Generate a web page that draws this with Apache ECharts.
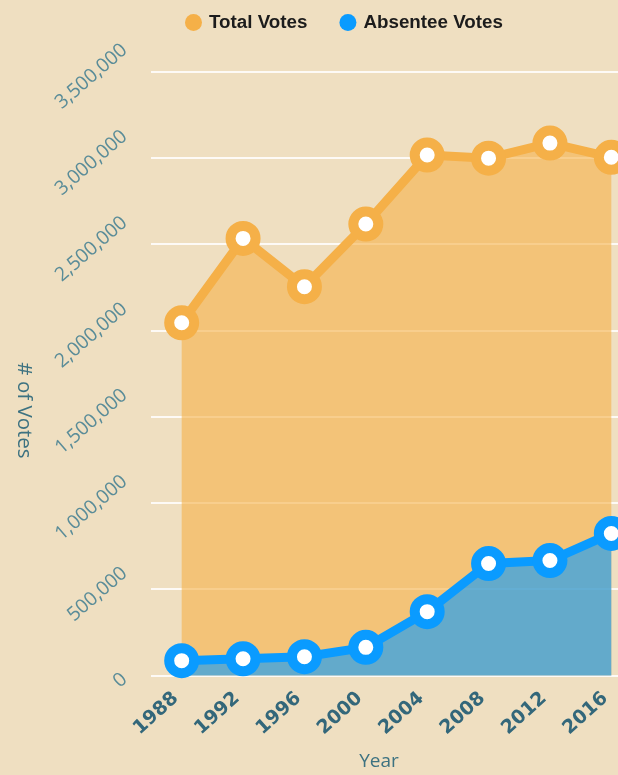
<!DOCTYPE html>
<html>
<head>
<meta charset="utf-8">
<script src="https://cdn.jsdelivr.net/npm/echarts@6/dist/echarts.min.js"></script>
<style>
html, body { margin: 0; padding: 0; overflow: hidden; background: #efdfc1; width: 618px; height: 775px; }
#chart { width: 660px; height: 775px; }
</style>
</head>
<body>
<div id="chart"></div>
<script>
// ---- data ----
const years = ['1988', '1992', '1996', '2000', '2004', '2008', '2012', '2016'];
const totalVotes = [2044000, 2533000, 2253000, 2616000, 3016000, 2998000, 3085000, 3003000];
const absenteeVotes = [86000, 97000, 109000, 163000, 370000, 649000, 666000, 823000];
const yTickLabels = ['0', '500,000', '1,000,000', '1,500,000', '2,000,000', '2,500,000', '3,000,000', '3,500,000'];
const seriesNames = ['Total Votes', 'Absentee Votes'];

// ---- styling ----
const ORANGE = '#f5b048';
const BLUE = '#0a9bff';
const GRID_LEFT = 151;
const Y_ROT = 41;
const Y_FONT = 19.5;
const Y_FAMILY = '"Open Sans"';
const Y_COLOR = '#5a8c98';

// per-label padding so that each rotated label's bounding box is right-aligned
const ctx = document.createElement('canvas').getContext('2d');
ctx.font = Y_FONT + 'px ' + Y_FAMILY;
const th = Y_ROT * Math.PI / 180;
const XR = 129, hVis = 13.5, dyC = 5;
const cOff = XR - GRID_LEFT;
const rich = {};
yTickLabels.forEach(function (t, i) {
  const L = ctx.measureText(t).width;
  const a = cOff - (L * Math.cos(th) + hVis * Math.sin(th)) / 2;
  const b = dyC;
  const xt = a * Math.cos(th) - b * Math.sin(th);
  const yt = a * Math.sin(th) + b * Math.cos(th);
  const pr = Math.max(0, -xt - L / 2);
  const pb = Math.max(0, -2 * yt);
  rich['t' + i] = { padding: [0, pr, pb, 0], fontSize: Y_FONT, fontFamily: Y_FAMILY, color: Y_COLOR };
});

const chart = echarts.init(document.getElementById('chart'), null, { renderer: 'canvas' });
chart.setOption({
  backgroundColor: '#efdfc1',
  animation: false,
  legend: {
    left: 185,
    top: 13,
    padding: 0,
    itemWidth: 17,
    itemHeight: 17,
    itemGap: 32,
    icon: 'circle',
    textStyle: { fontFamily: '"Liberation Sans", Arial, sans-serif', fontWeight: 'bold', fontSize: 18.8, color: '#1c1c1c', padding: [0, 0, 0, 2] },
    data: [
      { name: seriesNames[0], itemStyle: { color: ORANGE, borderWidth: 0 } },
      { name: seriesNames[1], itemStyle: { color: BLUE, borderWidth: 0 } }
    ]
  },
  grid: { left: GRID_LEFT, right: 18, top: 71.5, bottom: 99.5, containLabel: false, outerBoundsMode: 'none' },
  xAxis: {
    type: 'category',
    data: years,
    boundaryGap: true,
    axisLine: { show: false },
    axisTick: { show: false },
    axisLabel: {
      interval: 0,
      rotate: 42,
      align: 'right',
      verticalAlign: 'middle',
      margin: 15,
      padding: [0, 8, 0, 0],
      fontFamily: '"DejaVu Sans"',
      fontWeight: 'bold',
      fontSize: 19,
      color: '#33677a'
    },
    name: 'Year',
    nameLocation: 'middle',
    nameGap: 77,
    nameTextStyle: { fontFamily: '"Open Sans"', fontSize: 19, color: '#3d7281', padding: [0, 35, 0, 0] }
  },
  yAxis: {
    type: 'value',
    min: 0,
    max: 3500000,
    interval: 500000,
    axisLine: { show: false },
    axisTick: { show: false },
    splitLine: { lineStyle: { color: 'rgba(255,255,255,0.85)', width: 2 } },
    axisLabel: {
      rotate: Y_ROT,
      align: 'right',
      verticalAlign: 'middle',
      margin: 0,
      fontFamily: Y_FAMILY,
      fontSize: Y_FONT,
      color: Y_COLOR,
      formatter: function (v) {
        const i = Math.round(v / 500000);
        return '{t' + i + '|' + yTickLabels[i] + '}';
      },
      rich: rich
    },
    name: '# of Votes',
    nameLocation: 'middle',
    nameRotate: -90,
    nameGap: 117,
    nameTextStyle: { fontFamily: '"Open Sans"', fontSize: 20.5, color: '#3d7281', padding: [0, 0, 0, 74] }
  },
  series: [
    {
      name: seriesNames[0],
      type: 'line',
      data: totalVotes,
      z: 2,
      symbol: 'circle',
      symbolSize: 25,
      showSymbol: true,
      lineStyle: { color: ORANGE, width: 9 },
      itemStyle: { color: '#ffffff', borderColor: ORANGE, borderWidth: 10 },
      areaStyle: { color: 'rgba(245,176,72,0.6)', opacity: 1 },
      emphasis: { disabled: true }
    },
    {
      name: seriesNames[1],
      type: 'line',
      data: absenteeVotes,
      z: 3,
      symbol: 'circle',
      symbolSize: 25,
      showSymbol: true,
      lineStyle: { color: BLUE, width: 9 },
      itemStyle: { color: '#ffffff', borderColor: BLUE, borderWidth: 10 },
      areaStyle: { color: 'rgba(10,155,255,0.62)', opacity: 1 },
      emphasis: { disabled: true }
    }
  ]
});
</script>
</body>
</html>
